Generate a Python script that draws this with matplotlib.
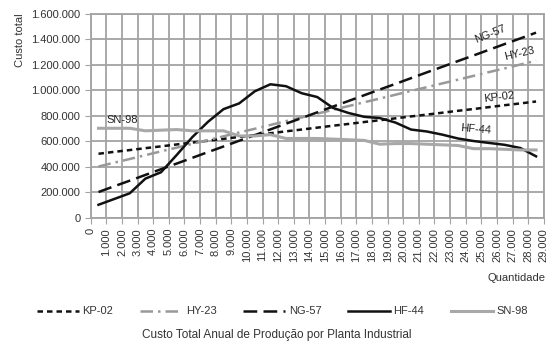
import matplotlib.pyplot as plt
from matplotlib.ticker import FuncFormatter, MultipleLocator

plt.rcParams['font.family'] = ['Liberation Sans', 'DejaVu Sans']

# quantidade (pontos a meio de cada intervalo de 1.000)
qtd = [500, 1500, 2500, 3500, 4500, 5500, 6500, 7500, 8500, 9500,
       10500, 11500, 12500, 13500, 14500, 15500, 16500, 17500, 18500, 19500,
       20500, 21500, 22500, 23500, 24500, 25500, 26500, 27500, 28500]

kp02 = [500, 515, 529, 544, 558, 573, 588, 602, 617, 632,
        646, 661, 676, 690, 705, 720, 734, 749, 763, 778,
        793, 807, 822, 837, 851, 866, 881, 895, 910]
hy23 = [400, 430, 459, 489, 519, 548, 578, 607, 637, 667,
        696, 726, 756, 785, 815, 844, 874, 904, 933, 963,
        993, 1022, 1052, 1081, 1111, 1141, 1170, 1200, 1230]
ng57 = [200, 245, 289, 334, 379, 423, 468, 513, 557, 602,
        646, 691, 736, 780, 825, 870, 914, 959, 1004, 1048,
        1093, 1138, 1182, 1227, 1271, 1316, 1361, 1405, 1450]
hf44 = [100, 145, 190, 305, 355, 490, 630, 750, 850, 895,
        990, 1045, 1030, 975, 945, 860, 820, 790, 780, 745,
        690, 675, 650, 620, 600, 585, 570, 545, 480]
sn98 = [700, 700, 700, 680, 685, 690, 680, 680, 680, 640,
        640, 650, 620, 620, 620, 615, 610, 605, 575, 580,
        580, 575, 570, 565, 540, 540, 535, 530, 530]

def milhar(v, pos=None):
    return '{:,.0f}'.format(v).replace(',', '.')

fig = plt.figure(figsize=(5.54, 3.56), dpi=100)
ax = fig.add_axes([0.1637, 0.389, 0.818, 0.573])

k = 1000
ax.plot(qtd, [v * k for v in kp02], color='#111111', lw=1.8,
        dashes=(2.2, 1.6), label='KP-02')
ax.plot(qtd, [v * k for v in hy23], color='#999999', lw=1.8,
        dashes=(5, 2, 1, 2), label='HY-23')
ax.plot(qtd, [v * k for v in ng57], color='#111111', lw=1.8,
        dashes=(5.5, 2.5), label='NG-57')
ax.plot(qtd, [v * k for v in hf44], color='#111111', lw=1.8, label='HF-44')
ax.plot(qtd, [v * k for v in sn98], color='#a8a8a8', lw=2.2, label='SN-98')

ax.set_xlim(0, 29000)
ax.set_ylim(0, 1600000)
ax.xaxis.set_major_locator(MultipleLocator(1000))
ax.yaxis.set_major_locator(MultipleLocator(200000))
ax.xaxis.set_major_formatter(FuncFormatter(milhar))
ax.yaxis.set_major_formatter(FuncFormatter(milhar))
ax.grid(True, color='#a3a3a3', lw=1.3)
ax.set_axisbelow(True)
for s in ax.spines.values():
    s.set_color('#a3a3a3')
    s.set_linewidth(1.3)
ax.tick_params(colors='#a3a3a3', labelcolor='#333333', labelsize=8, length=4)
ax.tick_params(axis='x', labelrotation=90)

ax.set_ylabel('Custo total', fontsize=8, color='#333333')
ax.yaxis.set_label_coords(-0.145, 0.87)
fig.text(0.984, 0.21, 'Quantidade', fontsize=8, color='#333333', ha='right')

# rótulos das séries
lbl = dict(fontsize=8, color='#222222', zorder=6)
ax.text(1000, 745000, 'SN-98', **lbl)
ax.text(24500, 1370000, 'NG-57', rotation=22, **lbl)
ax.text(26400, 1235000, 'HY-23', rotation=13, **lbl)
ax.text(25100, 905000, 'KP-02', rotation=7, **lbl)
ax.text(23600, 660000, 'HF-44', rotation=-5, **lbl)

fig.legend(loc='center', bbox_to_anchor=(0.51, 0.125), ncol=5, frameon=False,
           fontsize=8, handlelength=3.8, columnspacing=2.4, handletextpad=0.3,
           labelcolor='#333333')
fig.text(0.5, 0.05, 'Custo Total Anual de Produção por Planta Industrial',
         fontsize=8.5, color='#333333', ha='center')

fig.savefig('out.png', dpi=100)
